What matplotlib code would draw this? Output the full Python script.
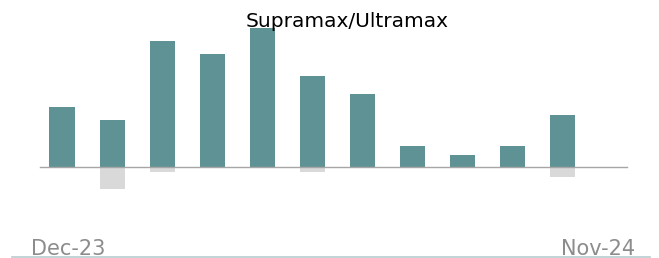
import numpy as np
import matplotlib
matplotlib.use("Agg")
import matplotlib.pyplot as plt
from matplotlib.lines import Line2D

months = ['Dec-23', 'Jan-24', 'Feb-24', 'Mar-24', 'Apr-24', 'May-24',
          'Jun-24', 'Jul-24', 'Aug-24', 'Sep-24', 'Oct-24', 'Nov-24']
positive = [5.95, 4.65, 12.55, 11.25, 13.85, 9.05, 7.25, 2.05, 1.15, 2.05, 5.15]
negative = [-0.1, -2.25, -0.55, -0.1, -0.1, -0.55, -0.1, -0.1, -0.1, -0.1, -1.05]

teal = '#5f9295'
grey = '#d9d9d9'

fig = plt.figure(figsize=(6.59, 2.58), dpi=100)
ax = fig.add_axes([0, 0, 1, 1])

x = np.arange(len(positive))
ax.bar(x, negative, width=0.5, color=grey, zorder=2)
ax.bar(x, positive, width=0.5, color=teal, zorder=3)
ax.plot([-0.44, 11.3], [0, 0], color='#a6a6a6', lw=1, zorder=4)

ax.set_xlim(-1.24, 11.94)
ax.set_ylim(-9.15, 16.65)
ax.axis('off')

fig.text(347 / 659, 1 - 27 / 258, 'Supramax/Ultramax', ha='center',
         va='baseline', fontsize=14.5, color='black')
fig.text(31 / 659, 3 / 258, months[0], ha='left', va='baseline',
         fontsize=15, color='#8c8c8c')
fig.text(635 / 659, 3 / 258, months[-1], ha='right', va='baseline',
         fontsize=15, color='#8c8c8c')
fig.add_artist(Line2D([12 / 659, 650 / 659], [1.5 / 258, 1.5 / 258],
                      color='#b8cccf', lw=1.2))

fig.savefig('out.png', dpi=100)
